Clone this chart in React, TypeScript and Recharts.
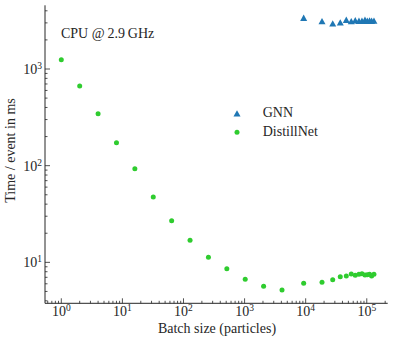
import { ScatterChart, Scatter, XAxis, YAxis, Legend, Label } from 'recharts';

const FONT = '"Liberation Serif", "DejaVu Serif", serif';
const INK = '#262626';
const GREEN = '#2fcc2f';
const BLUE = '#1f77b4';

// batch sizes (particles)
const distillBatch = [
  1, 2, 4, 8, 16, 32, 64, 128, 256, 512, 1024, 2048, 4096,
  9270, 18500, 27700, 36800, 46200, 55700, 64800, 74500, 83400, 93400, 102000, 111000, 120000, 131000,
];
// time per event in ms
const distillTime = [
  1250, 667, 345, 173, 93, 47.3, 26.9, 16.9, 11.3, 8.59, 6.67, 5.65, 5.18,
  6.07, 6.21, 6.61, 7.1, 7.21, 7.57, 7.35, 7.52, 7.62, 7.39, 7.45, 7.52, 7.21, 7.52,
];
const gnnBatch = [9270, 18500, 27700, 36800, 46200, 55700, 64800, 74500, 83400, 93400, 102000, 111000, 120000, 131000];
const gnnTime = [3340, 3080, 2920, 2990, 3190, 3080, 3150, 3110, 3110, 3190, 3110, 3130, 3110, 3120];

const xDomain: [number, number] = [0.541, 2.2e5];
const yDomain: [number, number] = [3.77, 4560];

const distillData = distillBatch.map((x, i) => ({ x, y: distillTime[i] }));
const gnnData = gnnBatch.map((x, i) => ({ x, y: gnnTime[i] }));

// major + minor log ticks inside [lo, hi]
function logTicks(lo: number, hi: number) {
  const out: number[] = [];
  for (let e = Math.floor(Math.log10(lo)); e <= Math.ceil(Math.log10(hi)); e++) {
    for (let m = 1; m <= 9; m++) {
      const v = Number((m * Math.pow(10, e)).toPrecision(6));
      if (v >= lo && v <= hi) out.push(v);
    }
  }
  return out;
}
const xTicks = logTicks(xDomain[0], xDomain[1]);
const yTicks = logTicks(yDomain[0], yDomain[1]);

const decade = (v: number) => {
  const l = Math.log10(v);
  return Math.abs(l - Math.round(l)) < 1e-6 ? Math.round(l) : null;
};

const MAJ = 5;
const MIN = 2.5;

const BottomTick = (p: any) => {
  const e = decade(p.payload.value);
  const len = e === null ? MIN : MAJ;
  return (
    <g>
      <line x1={p.x} x2={p.x} y1={p.y} y2={p.y - len} stroke={INK} strokeWidth={0.8} />
      {e !== null && (
        <text x={p.x} y={p.y + 13} textAnchor="middle" fontFamily={FONT} fontSize={14} fill={INK}>
          10<tspan dy={-5} fontSize={9.5}>{e}</tspan>
        </text>
      )}
    </g>
  );
};

const TopTick = (p: any) => {
  const len = decade(p.payload.value) === null ? MIN : MAJ;
  return <line x1={p.x} x2={p.x} y1={p.y} y2={p.y + len} stroke={INK} strokeWidth={0.8} />;
};

const LeftTick = (p: any) => {
  const e = decade(p.payload.value);
  const len = e === null ? MIN : MAJ;
  return (
    <g>
      <line x1={p.x} x2={p.x + len} y1={p.y} y2={p.y} stroke={INK} strokeWidth={0.8} />
      {e !== null && (
        <text x={p.x - 3} y={p.y + 5} textAnchor="end" fontFamily={FONT} fontSize={14} fill={INK}>
          10<tspan dy={-5} fontSize={9.5}>{e}</tspan>
        </text>
      )}
    </g>
  );
};

const RightTick = (p: any) => {
  const len = decade(p.payload.value) === null ? MIN : MAJ;
  return <line x1={p.x} x2={p.x - len} y1={p.y} y2={p.y} stroke={INK} strokeWidth={0.8} />;
};

const Tri = (p: any) => (
  <polygon
    points={`${p.cx},${p.cy - 3.8} ${p.cx - 3.5},${p.cy + 2.6} ${p.cx + 3.5},${p.cy + 2.6}`}
    fill={BLUE}
  />
);
const Dot = (p: any) => <circle cx={p.cx} cy={p.cy} r={2.5} fill={GREEN} />;

const LegendBox = () => (
  <svg width={130} height={42}>
    <polygon points="9,10.2 5.5,16.6 12.5,16.6" fill={BLUE} />
    <text x={34.7} y={17.3} fontFamily={FONT} fontSize={14} fill={INK}>GNN</text>
    <circle cx={9} cy={32.3} r={2.5} fill={GREEN} />
    <text x={34.7} y={35.5} fontFamily={FONT} fontSize={14} fill={INK}>DistillNet</text>
  </svg>
);

// y-axis title plus the CPU annotation in the upper-left of the plot
const SideTexts = () => (
  <g>
    <text
      x={15}
      y={150.5}
      transform="rotate(-90 15 150.5)"
      textAnchor="middle"
      fontFamily={FONT}
      fontSize={14}
      fill={INK}
    >
      Time / event in ms
    </text>
    <text x={61} y={38} fontFamily={FONT} fontSize={14} fill={INK}>
      CPU @{'\u2009'}2.9{'\u2009'}GHz
    </text>
  </g>
);

export default function App() {
  return (
    <div style={{ position: 'absolute', left: 0, top: 0, background: '#fff' }}>
      <ScatterChart width={395} height={344} margin={{ top: 5.3, right: 7.3, bottom: 0, left: 0 }}>
        <XAxis
          dataKey="x"
          type="number"
          scale="log"
          domain={xDomain}
          allowDataOverflow
          ticks={xTicks}
          interval={0}
          tick={<BottomTick />}
          tickSize={0}
          tickMargin={0}
          tickLine={false}
          height={40.7}
          axisLine={{ stroke: INK, strokeWidth: 1 }}
          label={
            <Label
              content={() => (
                <text x={217} y={332.5} textAnchor="middle" fontFamily={FONT} fontSize={14} fill={INK}>
                  Batch size (particles)
                </text>
              )}
            />
          }
        />
        <XAxis
          xAxisId="top"
          orientation="top"
          dataKey="x"
          type="number"
          scale="log"
          domain={xDomain}
          allowDataOverflow
          ticks={xTicks}
          interval={0}
          tick={<TopTick />}
          tickSize={0}
          tickMargin={0}
          tickLine={false}
          height={0}
          axisLine={{ stroke: INK, strokeWidth: 1 }}
        />
        <YAxis
          dataKey="y"
          type="number"
          scale="log"
          domain={yDomain}
          allowDataOverflow
          ticks={yTicks}
          interval={0}
          tick={<LeftTick />}
          tickSize={0}
          tickMargin={0}
          tickLine={false}
          width={45}
          axisLine={{ stroke: INK, strokeWidth: 1 }}
          label={<Label content={() => <SideTexts />} />}
        />
        <YAxis
          yAxisId="right"
          orientation="right"
          dataKey="y"
          type="number"
          scale="log"
          domain={yDomain}
          allowDataOverflow
          ticks={yTicks}
          interval={0}
          tick={<RightTick />}
          tickSize={0}
          tickMargin={0}
          tickLine={false}
          width={0}
          axisLine={{ stroke: INK, strokeWidth: 1 }}
        />
        <Legend
          layout="vertical"
          align="center"
          verticalAlign="middle"
          wrapperStyle={{ left: 228, top: 100, width: 130, height: 42 }}
          content={() => <LegendBox />}
        />
        <Scatter name="GNN" data={gnnData} shape={<Tri />} isAnimationActive={false} />
        <Scatter name="DistillNet" data={distillData} shape={<Dot />} isAnimationActive={false} />
      </ScatterChart>
    </div>
  );
}
